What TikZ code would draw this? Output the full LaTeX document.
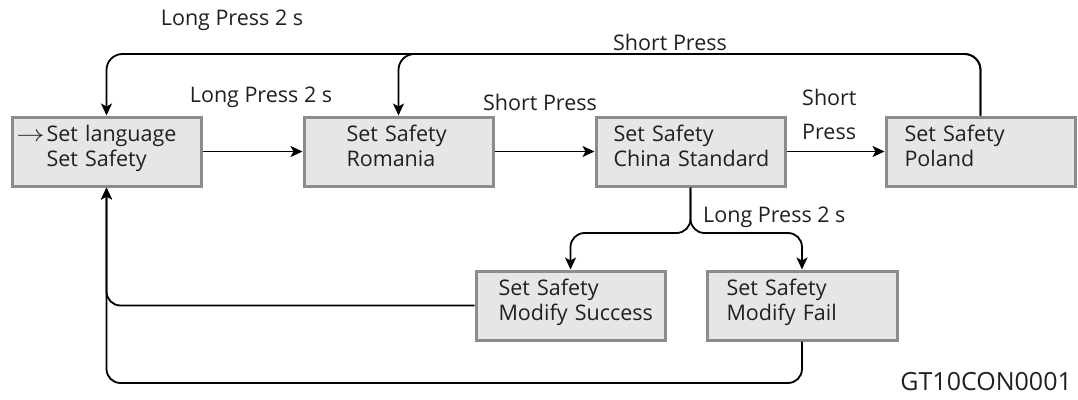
\documentclass[tikz,border=0pt]{standalone}
\usepackage{fontspec}
\setmainfont{Open Sans}
\usetikzlibrary{arrows.meta}
\definecolor{boxfill}{HTML}{E6E6E6}
\definecolor{boxline}{HTML}{8C8C8C}
\definecolor{txt}{HTML}{231F20}
\begin{document}
\begin{tikzpicture}[x=1pt,y=-1pt,
  font=\fontsize{21.5}{25}\selectfont, text=txt,
  stbox/.style={draw=boxline, fill=boxfill, line width=3pt, anchor=north west,
    minimum height=69pt, align=left, inner ysep=0pt, text height=16pt, text depth=36pt},
  conn/.style={line width=1.8pt, draw=black},
  arr/.style={conn, -{Stealth[length=12pt,width=11pt,inset=3pt]}},
  lbl/.style={inner sep=0pt}
]
\useasboundingbox (0,0) rectangle (1078,399);
% boxes (path coordinates = outer edge + 1.5)
\node[stbox, inner xsep=34.5pt, text width=120pt] (b1) at (10.5,115.5)
  {\llap{\scalebox{1.35}[1.1]{$\rightarrow$}\kern2pt}\mbox{Set language}\\\mbox{Set Safety}};
\node[stbox, inner xsep=42.5pt, text width=104pt] (b2) at (302.5,115.5)
  {\mbox{Set Safety}\\\mbox{Romania}};
\node[stbox, inner xsep=17.5pt, text width=154pt] (b3) at (594.5,115.5)
  {\mbox{Set Safety}\\\mbox{China Standard}};
\node[stbox, inner xsep=18.5pt, text width=152pt] (b4) at (884.5,115.5)
  {\mbox{Set Safety}\\\mbox{Poland}};
\node[stbox, inner xsep=22.5pt, text width=144pt] (b5) at (474.5,269.5)
  {\mbox{Set Safety}\\\mbox{Modify Success}};
\node[stbox, inner xsep=19.5pt, text width=151pt] (b6) at (705.5,269.5)
  {\mbox{Set Safety}\\\mbox{Modify Fail}};
% coordinates
\coordinate (top) at (0,54);
\coordinate (split) at (0,233);
\coordinate (ret) at (0,383);
% horizontal arrows
\draw[arr] (b1) -- (b2);
\draw[arr] (b2) -- (b3);
\draw[arr] (b3) -- (b4);
% top loops
\draw[arr, rounded corners=16pt] (b4.north) -- (b4.north |- top) -- (b1.north |- top) -- (b1.north);
\draw[arr, rounded corners=16pt] (b4.north) -- (b4.north |- top) -- (b2.north |- top) -- (b2.north);
% split down
\draw[arr, rounded corners=14pt] (b3.south) -- (b3.south |- split) -- (b5.north |- split) -- (b5.north);
\draw[arr, rounded corners=14pt] (b3.south) -- (b3.south |- split) -- (b6.north |- split) -- (b6.north);
% returns
\draw[arr, rounded corners=14pt] (b5.west) -| (b1.south);
\draw[arr, rounded corners=14pt] (b6.south) -- (b6.south |- ret) -- (b1.south |- ret) -- (b1.south);
% labels
\node[lbl] (l1) at (232,20) {Long Press 2 s};
\node[lbl] (l2) at (670,42) {Short Press};
\node[lbl] (l3) at (261,97) {Long Press 2 s};
\node[lbl] (l4) at (540,102) {Short Press};
\node[lbl, anchor=west, align=left, font=\fontsize{21.5}{34}\selectfont] (l5) at (802,114) {Short\\Press};
\node[lbl, anchor=west] (l6) at (703,217) {Long Press 2 s};
\node[lbl, anchor=east, font=\fontsize{25}{30}\selectfont] (l7) at (1072,382) {GT10CON0001};
\end{tikzpicture}
\end{document}
